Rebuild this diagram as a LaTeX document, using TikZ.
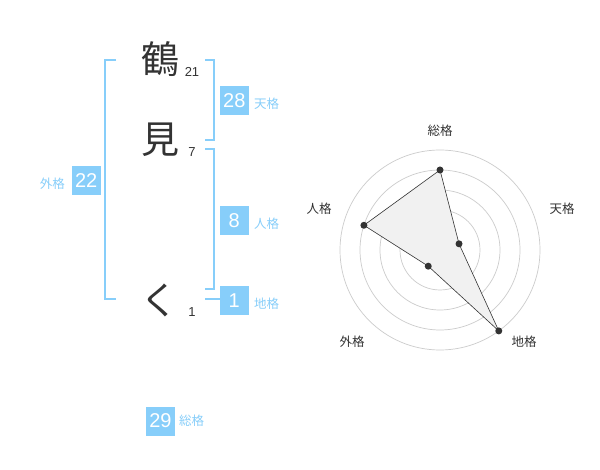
\documentclass[tikz,border=0pt]{standalone}
\usepackage{fontspec}
\setmainfont{Liberation Sans}
\newfontfamily\jpfont{Noto Sans CJK JP}
\definecolor{kakublue}{HTML}{87CEFA}
\definecolor{inkgray}{HTML}{333333}
\definecolor{ringgray}{HTML}{CCCCCC}
\definecolor{areagray}{HTML}{F1F1F1}
\tikzset{
  numbox/.style={fill=kakublue,text=white,minimum size=29pt,inner sep=0pt,font=\fontsize{20}{20}\selectfont},
  kakulabel/.style={text=kakublue,inner sep=0pt,font=\jpfont\fontsize{12.5}{12.5}\selectfont},
  namechar/.style={text=inkgray,inner sep=0pt,font=\jpfont\fontsize{38}{38}\selectfont},
  strokes/.style={text=inkgray,inner sep=0pt,font=\fontsize{13}{13}\selectfont},
  bracket/.style={draw=kakublue,line width=1.6pt},
  axislabel/.style={text=inkgray,inner sep=0pt,font=\jpfont\fontsize{12.5}{12.5}\selectfont},
  datadot/.style={circle,fill=inkgray,inner sep=0pt,minimum size=7pt}
}
\begin{document}
\begin{tikzpicture}[x=1pt,y=-1pt]
\useasboundingbox[fill=white] (0,0) rectangle (600,470);
% name and stroke counts
\node[namechar] (c1) at (160,59) {鶴};
\node[strokes] (s1) at (192,72) {21};
\node[namechar] (c2) at (160,140) {見};
\node[strokes] (s2) at (192,152) {7};
\node[namechar] (c3) at (159,300) {く};
\node[strokes] (s3) at (192,312) {1};
% brackets
\draw[bracket] (116,60) -- (105,60) -- (105,299) -- (116,299);
\draw[bracket] (205,60) -- (214,60) -- (214,140) -- (205,140);
\draw[bracket] (205,149) -- (214,149) -- (214,289) -- (205,289);
\draw[bracket] (205,299) -- (220,299);
% totals
\node[numbox] (ten) at (234.3,100.3) {28};
\node[kakulabel,anchor=west] (tenl) at (254,104) {天格};
\node[numbox] (jin) at (234.3,220.3) {8};
\node[kakulabel,anchor=west] (jinl) at (254,224) {人格};
\node[numbox] (chi) at (234.3,300.3) {1};
\node[kakulabel,anchor=west] (chil) at (254,304) {地格};
\node[numbox] (gai) at (86.2,180.3) {22};
\node[kakulabel,anchor=east] (gail) at (65,184) {外格};
\node[numbox] (sou) at (160.5,421) {29};
\node[kakulabel,anchor=west] (soul) at (179,421) {総格};
% radar chart
\begin{scope}[shift={(440,250)},y=1pt]
\foreach \r in {20,40,60,80,100}
  \draw[ringgray,line width=0.7pt] (0,0) circle (\r);
\fill[ringgray] (0,0) circle (3.5);
\coordinate (psou) at (90:80);
\coordinate (pten) at (18:20);
\coordinate (pchi) at (-54:100);
\coordinate (pgai) at (-126:20);
\coordinate (pjin) at (162:80);
\draw[fill=areagray,draw=inkgray,line width=0.6pt]
  (psou) -- (pten) -- (pchi) -- (pgai) -- (pjin) -- cycle;
\foreach \p in {psou,pten,pchi,pgai,pjin}
  \node[datadot] at (\p) {};
\node[axislabel] (lsou) at (0,119.5) {総格};
\node[axislabel] (lten) at (122,41) {天格};
\node[axislabel] (lchi) at (84,-92) {地格};
\node[axislabel] (lgai) at (-88,-92) {外格};
\node[axislabel] (ljin) at (-121,41) {人格};
\end{scope}
\end{tikzpicture}
\end{document}
